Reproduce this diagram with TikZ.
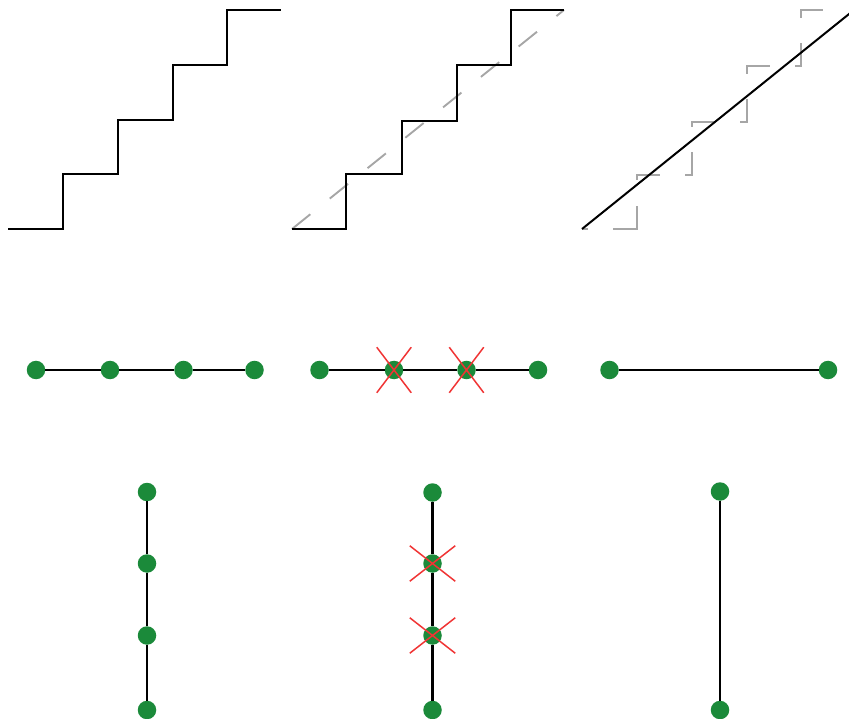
\documentclass[tikz,border=0pt]{standalone}
\usetikzlibrary{shapes.misc}
\definecolor{dotgreen}{RGB}{27,138,58}
\definecolor{xred}{RGB}{240,52,52}
\definecolor{guide}{RGB}{166,166,166}
\begin{document}
\begin{tikzpicture}[x=1pt,y=-1pt,
  stair/.style={line width=2pt, line join=miter},
  guideline/.style={draw=guide, line width=1.9pt, line join=miter},
  dot/.style={circle, fill=dotgreen, minimum size=18.5pt, inner sep=0pt},
  link/.style={line width=2.2pt},
  xmark/.style={cross out, draw=xred, line width=1.5pt, inner sep=0pt},
]
\useasboundingbox (0,0) rectangle (849,719);
\clip (0,0) rectangle (849,719);

% panel 1: staircase
\draw[stair] (8,229) -- (62.5,229) -- (62.5,174.5) -- (117.5,174.5) -- (117.5,120)
  -- (172.5,120) -- (172.5,65) -- (227,65) -- (227,10) -- (281,10);

% panel 2: staircase with dashed diagonal
\draw[guideline, dash pattern=on 23.5pt off 25pt] (292,229) -- (564,10);
\draw[stair] (292,229) -- (346,229) -- (346,174.5) -- (401.5,174.5) -- (401.5,121)
  -- (456.5,121) -- (456.5,65.5) -- (510.5,65.5) -- (510.5,10) -- (564,10);

% panel 3: dashed staircase with solid diagonal
\draw[guideline, dash pattern=on 6pt off 25pt on 47pt off 26pt on 28pt off 25pt on 30pt off 25pt on 28pt off 25pt on 30pt off 25pt on 31pt off 25pt on 29pt off 25pt on 30pt off 60pt]
  (582,229) -- (637,229) -- (637,175) -- (692,175) -- (692,122) -- (747,122)
  -- (747,66) -- (801,66) -- (801,10) -- (856,10);
\draw[stair] (582,229) -- (854,10);

% row 2: horizontal chains
\node[dot] (a1) at (36,370) {};
\node[dot] (a2) at (110,370) {};
\node[dot] (a3) at (183.5,370) {};
\node[dot] (a4) at (254.5,370) {};
\draw[link] (a1) -- (a2) -- (a3) -- (a4);

\node[dot] (b1) at (319.5,370) {};
\node[dot] (b2) at (394,370) {};
\node[dot] (b3) at (466.5,370) {};
\node[dot] (b4) at (538,370) {};
\draw[link] (b1) -- (b2) -- (b3) -- (b4);
\node[xmark, minimum width=33pt, minimum height=44pt] (xb2) at (b2) {};
\node[xmark, minimum width=33pt, minimum height=44pt] (xb3) at (b3) {};

\node[dot] (c1) at (609.5,370) {};
\node[dot] (c2) at (828,370) {};
\draw[link] (c1) -- (c2);

% row 3: vertical chains
\node[dot] (d1) at (147,492) {};
\node[dot] (d2) at (147,563.5) {};
\node[dot] (d3) at (147,635.5) {};
\node[dot] (d4) at (147,710) {};
\draw[link] (d1) -- (d2) -- (d3) -- (d4);

\node[dot] (e1) at (432.5,492.5) {};
\node[dot] (e2) at (432.5,563.5) {};
\node[dot] (e3) at (432.5,635.5) {};
\node[dot] (e4) at (432.5,710) {};
\draw[link] (e1) -- (e2) -- (e3) -- (e4);
\node[xmark, minimum width=44pt, minimum height=34pt] (xe2) at (e2) {};
\node[xmark, minimum width=44pt, minimum height=34pt] (xe3) at (e3) {};

\node[dot] (f1) at (720,491.5) {};
\node[dot] (f2) at (720,710) {};
\draw[link] (f1) -- (f2);
\end{tikzpicture}
\end{document}
